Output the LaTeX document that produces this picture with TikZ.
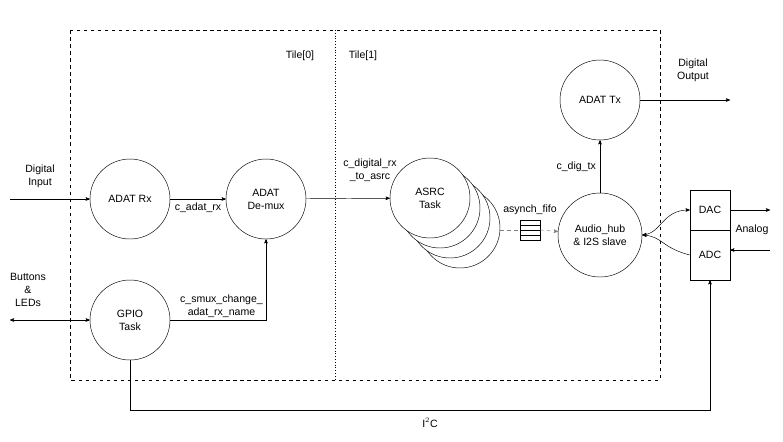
\documentclass[tikz,border=0pt]{standalone}
\usepackage{fontspec}
\setmainfont{Liberation Sans}
\usetikzlibrary{arrows,positioning}
\begin{document}
\begin{tikzpicture}[
	x=0.03cm,y=-0.03cm,
	>=stealth',
	task/.style={draw,circle,minimum size=80*0.03cm,inner sep=0pt,align=center,font=\small},
	lbl/.style={font=\small,align=center},
	every path/.style={thin}
	]
	\useasboundingbox (0,0) rectangle (783,441);
	
	% Tiles
	\draw[dashed] (70,30) rectangle (660,380);
	\draw[dotted,thick] (335,30) -- (335,380);
	\node[lbl] at (300,56) {Tile[0]};
	\node[lbl] at (363,56) {Tile[1]};
	
	% Tasks
	\node[task] (Rx) at (130,199) {ADAT Rx};
	\node[task] (Demux) at (266,199) {ADAT\\De-mux};
	\node[task] (Gpio) at (130,320) {GPIO\\Task};
	\foreach \i in {3,2,1}
		\node[task,fill=white] at (430+10*\i,198+10*\i) {};
	\node[task,fill=white] (Asrc) at (430,198) {ASRC\\Task};
	\node[task,minimum size=84*0.03cm] (Hub) at (600,235) {Audio\_hub\\\& I2S slave};
	\node[task] (Tx) at (600,100) {ADAT Tx};
	
	% FIFO
	\draw (520,220) rectangle (540,240);
	\foreach \y in {225,230,235} \draw (520,\y) -- (540,\y);
	\coordinate (FifoL) at (520,230);
	\coordinate (FifoR) at (540,230);
	\node[lbl] at (530,210) {asynch\_fifo};
	
	% DAC / ADC
	\node[draw,minimum width=40*0.03cm,minimum height=40*0.03cm,font=\small] (Dac) at (710,210) {DAC};
	\node[draw,minimum width=40*0.03cm,minimum height=50*0.03cm,font=\small] (Adc) at (710,255) {ADC};
	
	% Free ends
	\coordinate (DigIn) at (10,199);
	\coordinate (Btn) at (10,320);
	\coordinate (DigOut) at (730,100);
	\coordinate (AnOut) at (770,210);
	\coordinate (AnIn) at (770,250);
	\coordinate (AsrcR) at (500,230);
	
	% Channels
	\draw[->] (DigIn) -- (Rx);
	\node[lbl] at (40,176) {Digital\\Input};
	\draw[->] (Rx) -- node[lbl,below] {c\_adat\_rx} (Demux);
	\draw[->] (Demux) -- (Asrc);
	\node[lbl] at (370,170) {c\_digital\_rx\\\_to\_asrc};
	\draw[->] (Tx) -- (DigOut);
	\node[lbl] at (693,70) {Digital\\Output};
	\draw[->] (Hub) -- node[lbl,left] {c\_dig\_tx} (Tx);
	\draw[<->] (Btn) -- (Gpio);
	\node[lbl] at (28,290) {Buttons\\\&\\LEDs};
	\draw[->] (Gpio) -- (266,320) -- (Demux);
	\node[lbl,anchor=south west] at (176,322) {c\_smux\_change\_\\adat\_rx\_name};
	\draw[->] (Gpio) -- (130,410) -- (710,410) -- (Adc);
	\node[lbl] at (430,423) {I$^2$C};
	\draw[dashed,gray] (AsrcR) -- (FifoL);
	\draw[->,dashed,gray] (FifoR) -- (Hub);
	\draw[->] (Dac) -- (AnOut);
	\draw[->] (AnIn) -- (Adc.east |- AnIn);
	\node[lbl] at (752,230) {Analog};
	\draw[<->] (Hub.east) .. controls (662,233) and (662,210) .. (Dac.west);
	\draw[->] (Adc.west) .. controls (662,248) and (662,236) .. (Hub.east);
\end{tikzpicture}
\end{document}
